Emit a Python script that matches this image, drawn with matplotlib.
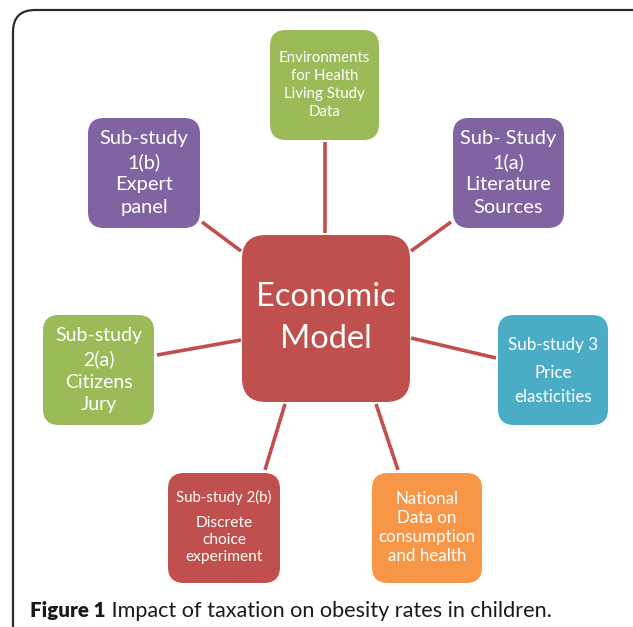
import matplotlib
matplotlib.use("Agg")
import matplotlib.pyplot as plt
from matplotlib.patches import FancyBboxPatch

# ---- content ----
center_label = "Economic\nModel"
center_color = "#C0504D"

node_labels = [
    "Environments\nfor Health\nLiving Study\nData",
    "Sub- Study\n1(a)\nLiterature\nSources",
    "Sub-study 3",
    "National\nData on\nconsumption\nand health",
    "Sub-study 2(b)",
    "Sub-study\n2(a)\nCitizens\nJury",
    "Sub-study\n1(b)\nExpert\npanel",
]
node_sublabels = ["", "", "Price\nelasticities", "", "Discrete\nchoice\nexperiment", "", ""]
node_colors = ["#9BBB59", "#8064A2", "#4BACC6", "#F79646", "#C0504D", "#9BBB59", "#8064A2"]
caption_bold = "Figure 1"
caption_rest = " Impact of taxation on obesity rates in children."

# ---- layout (pixels, y down) ----
W, H = 633, 627
boxes = [  # x0, y0, x1, y1
    (270, 30, 379, 140),
    (453, 118, 564, 228),
    (498, 315, 608, 425),
    (372, 473, 482, 583),
    (168, 473, 280, 583),
    (43, 315, 154, 425),
    (88, 118, 200, 228),
]
connectors = [
    ((325, 142), (325, 233)),
    ((451, 222), (411, 251)),
    ((496, 358), (411, 338)),
    ((398, 470), (376, 404)),
    ((265, 470), (285, 404)),
    ((157, 355), (241, 340)),
    ((202, 222), (241, 251)),
]
main_fs = [15, 20, 17, 17, 15, 19.5, 20]
main_ls = [1.36, 1.39, 1.2, 1.25, 1.2, 1.41, 1.39]
text_cy = [85, 173, 345, 527.5, 497, 370, 173]
sub_fs = [0, 0, 17, 0, 15.5, 0, 0]
sub_cy = [0, 0, 385, 0, 540, 0, 0]
sub_ls = [0, 0, 1.57, 0, 1.3, 0, 0]

plt.rcParams['font.family'] = ['Lato', 'DejaVu Sans']
fig = plt.figure(figsize=(W / 100, H / 100), dpi=100)
ax = fig.add_axes([0, 0, 1, 1])
ax.set_xlim(0, W)
ax.set_ylim(H, 0)
ax.axis("off")

px = 0.72  # px -> pt

# frame
frame = FancyBboxPatch((13, 10), 660, 660, boxstyle="round,pad=0,rounding_size=22",
                       fc="white", ec="#2b2b2b", lw=1.6, zorder=0)
ax.add_patch(frame)

for (p0, p1) in connectors:
    ax.plot([p0[0], p1[0]], [p0[1], p1[1]], color="#C0504D", lw=2.6,
            solid_capstyle="butt", zorder=1)

def rbox(x0, y0, x1, y1, color, r):
    ax.add_patch(FancyBboxPatch((x0, y0), x1 - x0, y1 - y0,
                                boxstyle=f"round,pad=0,rounding_size={r}",
                                fc=color, ec="none", zorder=2))

# center
rbox(242, 235, 410, 402, center_color, 24)
ax.text(326, 318, center_label, ha="center", va="center", color="white",
        fontsize=32.5 * px, linespacing=1.5, zorder=3)

for i, (b, lab, sub, col) in enumerate(zip(boxes, node_labels, node_sublabels, node_colors)):
    x0, y0, x1, y1 = b
    rbox(x0, y0, x1, y1, col, 16)
    cx = (x0 + x1) / 2
    ax.text(cx, text_cy[i], lab, ha="center", va="center", color="white",
            fontsize=main_fs[i] * px, linespacing=main_ls[i], zorder=3)
    if sub:
        ax.text(cx, sub_cy[i], sub, ha="center", va="center", color="white",
                fontsize=sub_fs[i] * px, linespacing=sub_ls[i], zorder=3)

# caption
t = ax.text(30, 617, caption_bold, ha="left", va="baseline", color="#1a1a1a",
            fontsize=20.5 * px, fontweight="heavy", zorder=3)
fig.canvas.draw()
bb = t.get_window_extent()
x_end = ax.transData.inverted().transform((bb.x1, bb.y0))[0]
ax.text(x_end, 617, caption_rest, ha="left", va="baseline", color="#1a1a1a",
        fontsize=21.6 * px, zorder=3)

fig.savefig("out.png", dpi=100)
